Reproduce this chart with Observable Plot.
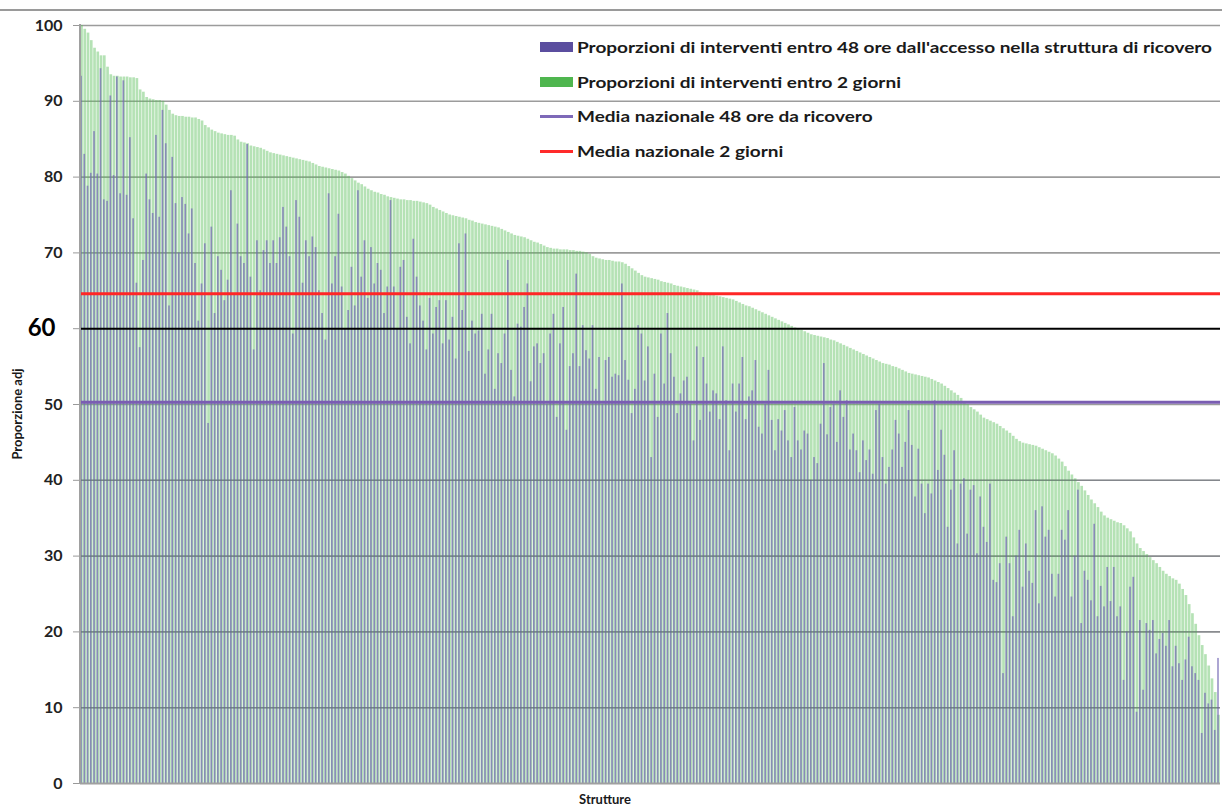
<!DOCTYPE html>
<html><head><meta charset="utf-8">
<script src="https://cdn.jsdelivr.net/npm/d3@7"></script>
<script src="https://cdn.jsdelivr.net/npm/@observablehq/plot@0.6"></script>
<style>
body{margin:0;background:#fff;font-family:Lato,"Open Sans",sans-serif;}
#wrap{position:relative;width:1222px;height:806px;overflow:hidden;background:#fff}
#wrap svg{position:absolute;left:0;top:0}
#topline{position:absolute;left:0;top:9px;width:1222px;height:0;border-top:2px solid #9a9a9a}
#yline{position:absolute;left:79px;top:24px;height:760px;border-left:2px solid #a0a0a0}
.leg{position:absolute;left:540px;font-weight:bold;font-size:15px;color:#1a1a1a;white-space:nowrap;display:flex;align-items:center;height:20px;line-height:20px}
.sw{display:inline-block;width:33px;margin-right:4px}
.lt{display:inline-block;transform-origin:left center}
#ylab{position:absolute;left:17px;top:414px;transform:translate(-50%,-50%) rotate(-90deg);font-weight:bold;font-size:13px;color:#1a1a1a;white-space:nowrap}
#xlab{position:absolute;left:605px;top:799px;transform:translate(-50%,-50%);font-weight:bold;font-size:13px;color:#1a1a1a;white-space:nowrap}
</style>
</head><body>
<div id="wrap"></div>
<script>
// Proporzioni di interventi entro 2 giorni (green, sorted descending)
const green = [
100,99.5,99,98,97,96.5,96,96,94.5,93.5,
93.3,93.3,93.2,93.2,93.2,93.1,93.1,93,91.5,91.2,
90.5,90.3,90.2,90.1,90.1,90,89.5,88.8,88.3,88.1,
88,88,87.9,87.9,87.8,87.8,87.6,87.4,86.8,86.5,
86.2,86,85.8,85.7,85.6,85.5,85.5,85.4,84.9,84.6,
84.5,84.4,84.1,84,83.9,83.8,83.6,83.4,83.2,83.1,
83,82.9,82.8,82.7,82.6,82.5,82.4,82.3,82.2,82.1,
82,81.8,81.6,81.4,81.3,81.2,81.1,81,80.9,80.8,
80.6,80.4,80.1,79.8,79.5,79.2,79,78.7,78.4,78.2,
78,77.9,77.7,77.6,77.4,77.3,77.2,77.1,77,77,
76.9,76.9,76.8,76.8,76.7,76.6,76.5,76.3,76,75.8,
75.6,75.4,75.2,75,74.9,74.8,74.7,74.6,74.5,74.3,
74.2,74,73.9,73.8,73.7,73.6,73.5,73.4,73.3,73.1,
72.9,72.7,72.5,72.3,72.2,72.1,72,71.8,71.6,71.4,
71.3,71.1,70.9,70.7,70.6,70.5,70.5,70.4,70.4,70.4,
70.3,70.3,70.2,70.2,70.1,70,69.8,69.5,69.3,69.2,
69.1,69,69,68.9,68.8,68.8,68.7,68.5,68.2,67.9,
67.6,67.3,67,66.8,66.7,66.6,66.5,66.4,66.2,66.1,
66,65.9,65.7,65.6,65.5,65.4,65.3,65.2,65.1,65,
64.8,64.7,64.6,64.5,64.4,64.3,64.2,64.1,64,63.9,
63.8,63.6,63.4,63.2,63,62.9,62.7,62.5,62.3,62.1,
61.9,61.7,61.5,61.3,61.1,60.9,60.7,60.5,60.3,60.1,
60,59.8,59.6,59.4,59.2,59.1,59,58.9,58.8,58.7,
58.5,58.4,58.2,58,57.8,57.6,57.4,57.2,57,56.8,
56.6,56.4,56.2,56,55.8,55.6,55.4,55.3,55.2,55,
54.9,54.7,54.5,54.3,54.1,54,53.9,53.8,53.7,53.6,
53.5,53.3,53.1,52.9,52.7,52.4,52.1,51.8,51.5,51.2,
50.8,50.4,50,49.6,49.3,49,48.6,48.2,48,47.8,
47.6,47.4,47.1,46.8,46.5,46.2,45.8,45.4,45.1,44.9,
44.8,44.7,44.6,44.5,44.3,44.1,43.9,43.7,43.5,43.2,
42.8,42.4,41.8,41.2,40.7,40.2,39.7,39.2,38.6,38,
37.4,36.9,36.4,35.8,35.3,35,34.8,34.6,34.4,34.3,
34,33.6,33.2,32.4,31.6,31,30.6,30.2,29.8,29.4,
29,28.5,28,27.6,27.3,27,26.8,26.3,25.6,24.8,
23.6,22.4,21,19.5,18.2,17,15.5,13.8,12,9
];
// Proporzioni di interventi entro 48 ore dall'accesso (purple)
const purple = [
93.3,83,78.8,80.5,86,80.4,94.3,77,76.8,90.7,
80.2,93.2,77.8,92.7,77.6,85.2,74.5,66,57.5,69,
80.4,77,75.2,85.5,74.7,88.8,84.4,63,82.6,76.5,
70,77.3,76.4,72.5,75.8,68.6,61,65.9,71.2,47.5,
73.4,62,69.5,67.7,63.7,66.4,78.2,64.6,73.8,69.5,
68.6,84.3,66.8,57.2,71.6,65,70.3,71.6,68.6,71.6,
68.6,72,76,73.4,69.5,59.3,76.9,74.7,66,71.6,
69.5,72.1,70.7,65,62,58.5,77.8,65.9,69.5,75.1,
65.5,60,62.4,68.1,63,78.2,66.8,71.6,64,70.7,
65.9,68.6,67.7,62,65.5,76.9,65.5,60,68.1,69,
61.5,58,71.8,66.8,63,61,57.2,64,59.3,62.8,
63.7,58,63.7,58.5,61.5,56,71.2,62.4,72.5,57,
61,59.3,59.7,61.9,54,57.2,61.9,52,56.7,55.4,
59.3,69,54.5,51,60.6,60.2,62.8,65.9,53,57.6,
58,55.4,56.7,50,59.3,61.9,48.3,58,62.8,46.6,
55,56.7,67.2,55,60.4,57.1,56,60.4,52,56.2,
50,55.8,56.2,53.6,54,53.8,65.9,55.8,53.2,48.8,
52,60.4,59.3,53.1,57.6,43,54,48.3,59.3,52.7,
62,56.7,53.6,48.8,51.4,53.1,53.6,50,45.2,57.6,
47.9,56.2,52.7,49,51.8,51.4,48,57.6,50.5,43.9,
52.7,49,52.7,56.2,48,51,51.8,55.8,47,46.1,
50,54.5,47.9,43.9,48,46.5,49.2,45.2,43,49.6,
45.2,44,46.5,46.1,40,43,42.2,47.4,55.4,46,
49.6,50,45,51.8,48.3,50.5,44,46.1,43.9,41,
45.2,42.6,44,40.8,49.2,50,43,39.5,41.7,44,
47.9,46.1,41.7,45,49.2,44.6,37.8,44.1,39.5,35.6,
39.5,38.2,50.5,41.3,46.6,43.3,33.8,38.7,43.9,31.6,
39.5,40.2,32.9,38.7,39.3,30.3,37.8,33.8,31.8,39.5,
26.8,26.5,29,14.5,32.5,29,22,30,33.4,25.9,
31.6,28,26.4,36,23.7,36.5,32.5,33.4,27.6,24.6,
27.6,33.4,32.1,36,24.6,30,38.7,21.1,28,26.8,
24.1,34.2,22,26,23.3,28.5,24,28.5,22,23.3,
13.6,20,25.9,27.2,9.4,21.5,12.3,21.1,20.2,21.5,
17.1,19,19.8,18.1,21.5,15.4,18.1,15.8,13.6,16.3,
19.3,15.4,14.5,13.6,6.6,11.9,10.5,11,7,16.5
];
const media48 = 50.3;      // Media nazionale 48 ore da ricovero
const media2g = 64.6;      // Media nazionale 2 giorni
const soglia = 60;         // reference line
const yTicks = [0,10,20,30,40,50,70,80,90,100];
const gridTicks = [10,20,30,40,50,70,80,90,100];
const legendItems = [
  {label:"Proporzioni di interventi entro 48 ore dall'accesso nella struttura di ricovero", kind:"bar", color:"#5b4e9f"},
  {label:"Proporzioni di interventi entro 2 giorni", kind:"bar", color:"#4fb64f"},
  {label:"Media nazionale 48 ore da ricovero", kind:"line", color:"#7e69b8"},
  {label:"Media nazionale 2 giorni", kind:"line", color:"#ff2a2a"}
];

const idx = d3.range(green.length);
const chart = Plot.plot({
  width: 1222, height: 806,
  marginLeft: 80, marginRight: 2, marginTop: 25, marginBottom: 23,
  style: {background: "transparent", fontFamily: "Lato, sans-serif"},
  x: {type: "band", domain: idx, paddingInner: 0.18, paddingOuter: 0.05, axis: null},
  y: {domain: [0, 100], axis: null},
  marks: [
    Plot.ruleY(gridTicks, {stroke: "#9c9c9c", strokeWidth: 1.6}),
    Plot.barY(idx, {x: i => i, y: i => green[i], fill: "#5cbf5c", fillOpacity: 0.45}),
    Plot.barY(idx, {x: i => i, y: i => purple[i], fill: "#7468b5", fillOpacity: 0.7, insetRight: 1}),
    Plot.ruleY(gridTicks.filter(t => t <= 40), {stroke: "#5a6070", strokeOpacity: 0.35, strokeWidth: 1.4}),
    Plot.ruleY([0], {stroke: "#a0a0a0", strokeWidth: 2}),
    Plot.ruleY([media48], {stroke: "#7a5db2", strokeWidth: 3}),
    Plot.ruleY([soglia], {stroke: "#000", strokeWidth: 2}),
    Plot.ruleY([media2g], {stroke: "#ff2626", strokeWidth: 3}),
    Plot.axisY({ticks: yTicks, tickSize: 7, tickPadding: 11, fontSize: 16, fontWeight: "bold", color: "#222", stroke: "#999", label: null}),
    Plot.axisY({ticks: [soglia], tickSize: 7, tickPadding: 18, fontSize: 24, fontWeight: "bold", color: "#000", stroke: "#999", label: null})
  ]
});
const wrap = document.getElementById("wrap");
wrap.appendChild(chart);
const tl = document.createElement("div"); tl.id = "topline"; wrap.appendChild(tl);
const yl = document.createElement("div"); yl.id = "yline"; wrap.appendChild(yl);
const legendTops = [37, 72, 106, 141];
const textSpans = [];
legendItems.forEach((it, k) => {
  const d = document.createElement("div");
  d.className = "leg";
  d.style.top = legendTops[k] + "px";
  const sw = document.createElement("span");
  sw.className = "sw";
  sw.style.background = it.color;
  sw.style.height = it.kind === "bar" ? "10px" : "3px";
  d.appendChild(sw);
  const t = document.createElement("span");
  t.className = "lt";
  t.textContent = it.label;
  d.appendChild(t);
  wrap.appendChild(d);
  textSpans.push(t);
});
// stretch legend text horizontally so the longest label spans to the right edge as in the reference
const targetWidth = 1212 - 577;
const w0 = textSpans[0].getBoundingClientRect().width;
const sx = w0 > 0 ? targetWidth / w0 : 1;
textSpans.forEach(t => { t.style.transform = `scaleX(${sx})`; });
const yt = document.createElement("div"); yt.id = "ylab"; yt.textContent = "Proporzione adj"; wrap.appendChild(yt);
const xt = document.createElement("div"); xt.id = "xlab"; xt.textContent = "Strutture"; wrap.appendChild(xt);
</script>
</body></html>
